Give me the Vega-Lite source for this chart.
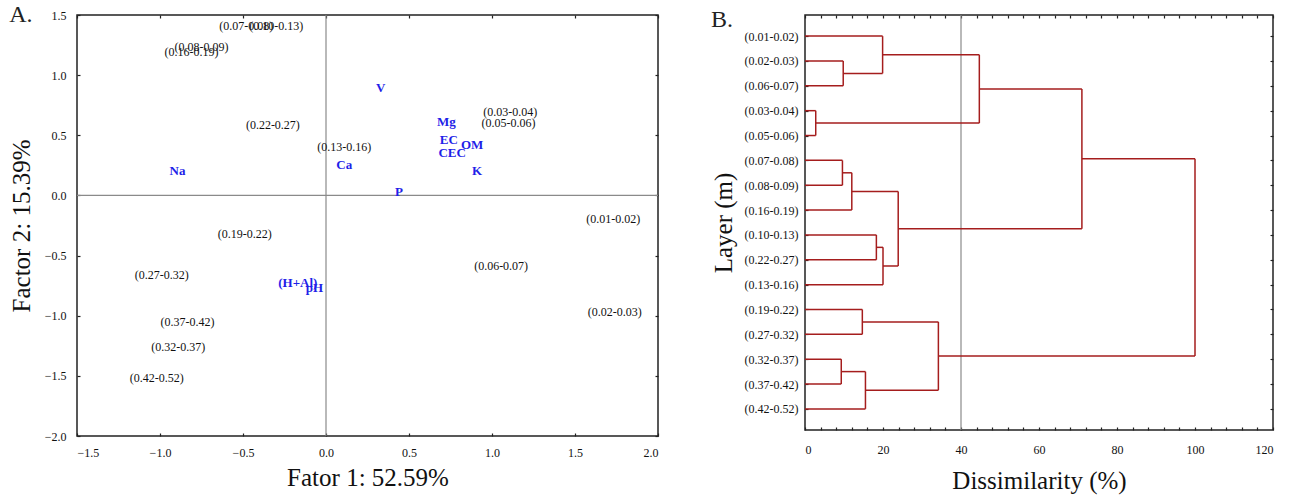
{
  "$schema": "https://vega.github.io/schema/vega-lite/v6.json",
  "padding": {"left": 8, "top": 2, "right": 5, "bottom": 5},
  "spacing": 50,
  "datasets": {
    "zero": [{"v": 0}],
    "cut": [{"v": 40}],
    "samples": [
      {"label": "(0.07-0.08)", "f1": -0.48, "f2": 1.41},
      {"label": "(0.10-0.13)", "f1": -0.30, "f2": 1.41},
      {"label": "(0.08-0.09)", "f1": -0.75, "f2": 1.23},
      {"label": "(0.16-0.19)", "f1": -0.81, "f2": 1.19},
      {"label": "(0.22-0.27)", "f1": -0.32, "f2": 0.585},
      {"label": "(0.13-0.16)", "f1": 0.11, "f2": 0.40},
      {"label": "(0.03-0.04)", "f1": 1.11, "f2": 0.69},
      {"label": "(0.05-0.06)", "f1": 1.10, "f2": 0.60},
      {"label": "(0.01-0.02)", "f1": 1.73, "f2": -0.20},
      {"label": "(0.19-0.22)", "f1": -0.49, "f2": -0.32},
      {"label": "(0.06-0.07)", "f1": 1.055, "f2": -0.583},
      {"label": "(0.27-0.32)", "f1": -0.99, "f2": -0.66},
      {"label": "(0.02-0.03)", "f1": 1.74, "f2": -0.967},
      {"label": "(0.37-0.42)", "f1": -0.835, "f2": -1.055},
      {"label": "(0.32-0.37)", "f1": -0.89, "f2": -1.264},
      {"label": "(0.42-0.52)", "f1": -1.02, "f2": -1.514}
    ],
    "variables": [
      {"label": "V", "f1": 0.33, "f2": 0.89},
      {"label": "Mg", "f1": 0.725, "f2": 0.61},
      {"label": "EC", "f1": 0.74, "f2": 0.46},
      {"label": "OM", "f1": 0.88, "f2": 0.42},
      {"label": "CEC", "f1": 0.76, "f2": 0.35},
      {"label": "K", "f1": 0.91, "f2": 0.20},
      {"label": "Na", "f1": -0.895, "f2": 0.20},
      {"label": "Ca", "f1": 0.11, "f2": 0.25},
      {"label": "P", "f1": 0.44, "f2": 0.03},
      {"label": "(H+Al)", "f1": -0.17, "f2": -0.73},
      {"label": "pH", "f1": -0.07, "f2": -0.77}
    ],
    "dendro": [
      {"x1": 0, "x2": 19.9, "y1": 1, "y2": 1},
      {"x1": 0, "x2": 9.8, "y1": 2, "y2": 2},
      {"x1": 0, "x2": 9.8, "y1": 3, "y2": 3},
      {"x1": 9.8, "x2": 19.9, "y1": 2.5, "y2": 2.5},
      {"x1": 0, "x2": 2.75, "y1": 4, "y2": 4},
      {"x1": 0, "x2": 2.75, "y1": 5, "y2": 5},
      {"x1": 19.9, "x2": 44.7, "y1": 1.75, "y2": 1.75},
      {"x1": 2.75, "x2": 44.7, "y1": 4.5, "y2": 4.5},
      {"x1": 44.7, "x2": 71, "y1": 3.125, "y2": 3.125},
      {"x1": 0, "x2": 9.6, "y1": 6, "y2": 6},
      {"x1": 0, "x2": 9.6, "y1": 7, "y2": 7},
      {"x1": 9.6, "x2": 12, "y1": 6.5, "y2": 6.5},
      {"x1": 0, "x2": 12, "y1": 8, "y2": 8},
      {"x1": 0, "x2": 18.3, "y1": 9, "y2": 9},
      {"x1": 0, "x2": 18.3, "y1": 10, "y2": 10},
      {"x1": 18.3, "x2": 20, "y1": 9.5, "y2": 9.5},
      {"x1": 0, "x2": 20, "y1": 11, "y2": 11},
      {"x1": 12, "x2": 23.9, "y1": 7.25, "y2": 7.25},
      {"x1": 20, "x2": 23.9, "y1": 10.25, "y2": 10.25},
      {"x1": 23.9, "x2": 71, "y1": 8.75, "y2": 8.75},
      {"x1": 71, "x2": 100, "y1": 5.9375, "y2": 5.9375},
      {"x1": 0, "x2": 14.7, "y1": 12, "y2": 12},
      {"x1": 0, "x2": 14.7, "y1": 13, "y2": 13},
      {"x1": 0, "x2": 9.3, "y1": 14, "y2": 14},
      {"x1": 0, "x2": 9.3, "y1": 15, "y2": 15},
      {"x1": 9.3, "x2": 15.5, "y1": 14.5, "y2": 14.5},
      {"x1": 0, "x2": 15.5, "y1": 16, "y2": 16},
      {"x1": 14.7, "x2": 34.2, "y1": 12.5, "y2": 12.5},
      {"x1": 15.5, "x2": 34.2, "y1": 15.25, "y2": 15.25},
      {"x1": 34.2, "x2": 100, "y1": 13.875, "y2": 13.875},
      {"x1": 9.8, "x2": 9.8, "y1": 2, "y2": 3},
      {"x1": 19.9, "x2": 19.9, "y1": 1, "y2": 2.5},
      {"x1": 2.75, "x2": 2.75, "y1": 4, "y2": 5},
      {"x1": 44.7, "x2": 44.7, "y1": 1.75, "y2": 4.5},
      {"x1": 9.6, "x2": 9.6, "y1": 6, "y2": 7},
      {"x1": 12, "x2": 12, "y1": 6.5, "y2": 8},
      {"x1": 18.3, "x2": 18.3, "y1": 9, "y2": 10},
      {"x1": 20, "x2": 20, "y1": 9.5, "y2": 11},
      {"x1": 23.9, "x2": 23.9, "y1": 7.25, "y2": 10.25},
      {"x1": 71, "x2": 71, "y1": 3.125, "y2": 8.75},
      {"x1": 14.7, "x2": 14.7, "y1": 12, "y2": 13},
      {"x1": 9.3, "x2": 9.3, "y1": 14, "y2": 15},
      {"x1": 15.5, "x2": 15.5, "y1": 14.5, "y2": 16},
      {"x1": 34.2, "x2": 34.2, "y1": 12.5, "y2": 15.25},
      {"x1": 100, "x2": 100, "y1": 5.9375, "y2": 13.875}
    ]
  },
  "hconcat": [
    {
      "width": 581,
      "height": 421,
      "title": {"text": "A.", "anchor": "start", "frame": "bounds", "offset": 0, "dy": 18, "dx": 0, "font": "Liberation Serif", "fontSize": 24, "fontWeight": "normal", "color": "#222"},
      "layer": [
        {
          "data": {"name": "zero"},
          "mark": {"type": "rule", "color": "#8a8a8a", "strokeWidth": 1.2},
          "encoding": {
            "x": {"field": "v", "type": "quantitative", "scale": {"domain": [-1.5, 2.0], "nice": false, "zero": false}, "axis": null}
          }
        },
        {
          "data": {"name": "zero"},
          "mark": {"type": "rule", "color": "#8a8a8a", "strokeWidth": 1.2},
          "encoding": {
            "y": {"field": "v", "type": "quantitative", "scale": {"domain": [-2.0, 1.5], "nice": false, "zero": false}, "axis": null}
          }
        },
        {
          "data": {"name": "samples"},
          "mark": {"type": "text", "font": "Liberation Serif", "fontSize": 12, "color": "#111", "align": "center", "baseline": "middle"},
          "encoding": {
            "x": {"field": "f1", "type": "quantitative", "scale": {"domain": [-1.5, 2.0], "nice": false, "zero": false},
                  "axis": {"orient": "bottom", "values": [-1.5, -1.0, -0.5, 0.0, 0.5, 1.0, 1.5, 2.0], "format": ".1f", "title": "Fator 1: 52.59%", "tickSize": -3, "labelPadding": 14, "titlePadding": 7}},
            "y": {"field": "f2", "type": "quantitative", "scale": {"domain": [-2.0, 1.5], "nice": false, "zero": false},
                  "axis": {"orient": "left", "values": [-2.0, -1.5, -1.0, -0.5, 0.0, 0.5, 1.0, 1.5], "format": ".1f", "title": "Factor 2: 15.39%", "tickSize": -3, "labelPadding": 14, "titlePadding": 10}},
            "text": {"field": "label", "type": "nominal"}
          }
        },
        {
          "data": {"name": "variables"},
          "mark": {"type": "text", "font": "Liberation Serif", "fontSize": 13, "fontWeight": "bold", "color": "#1f1fe8", "align": "center", "baseline": "middle"},
          "encoding": {
            "x": {"field": "f1", "type": "quantitative", "scale": {"domain": [-1.5, 2.0], "nice": false, "zero": false},
                  "axis": {"orient": "top", "values": [-1.5, -1.0, -0.5, 0.0, 0.5, 1.0, 1.5, 2.0], "labels": false, "title": null, "tickSize": -3}},
            "y": {"field": "f2", "type": "quantitative", "scale": {"domain": [-2.0, 1.5], "nice": false, "zero": false},
                  "axis": {"orient": "right", "values": [-2.0, -1.5, -1.0, -0.5, 0.0, 0.5, 1.0, 1.5], "labels": false, "title": null, "tickSize": -3}},
            "text": {"field": "label", "type": "nominal"}
          }
        }
      ],
      "resolve": {"axis": {"x": "independent", "y": "independent"}}
    },
    {
      "width": 468,
      "height": 415,
      "title": {"text": "B.", "anchor": "start", "frame": "bounds", "offset": 0, "dy": 18, "dx": 0, "font": "Liberation Serif", "fontSize": 24, "fontWeight": "normal", "color": "#222"},
      "layer": [
        {
          "data": {"name": "cut"},
          "mark": {"type": "rule", "color": "#8a8a8a", "strokeWidth": 1.2},
          "encoding": {
            "x": {"field": "v", "type": "quantitative", "scale": {"domain": [0, 120], "nice": false},
                  "axis": {"orient": "top", "values": [0,4,8,12,16,20,24,28,32,36,40,44,48,52,56,60,64,68,72,76,80,84,88,92,96,100,104,108,112,116,120], "labels": false, "title": null, "tickSize": -3}},
            "y": {"datum": 0.15, "type": "quantitative", "scale": {"domain": [0.15, 16.85], "nice": false, "zero": false, "reverse": true},
                  "axis": {"orient": "right", "values": [1,2,3,4,5,6,7,8,9,10,11,12,13,14,15,16], "labels": false, "title": null, "tickSize": -3}},
            "y2": {"datum": 16.85}
          }
        },
        {
          "data": {"name": "dendro"},
          "mark": {"type": "rule", "color": "#a51d1d", "strokeWidth": 1.5},
          "encoding": {
            "x": {"field": "x1", "type": "quantitative", "scale": {"domain": [0, 120], "nice": false},
                  "axis": {"orient": "bottom", "values": [0,4,8,12,16,20,24,28,32,36,40,44,48,52,56,60,64,68,72,76,80,84,88,92,96,100,104,108,112,116,120], "labelExpr": "datum.value % 20 === 0 ? datum.label : ''", "title": "Dissimilarity (%)", "tickSize": -3, "labelPadding": 17, "titlePadding": 13}},
            "x2": {"field": "x2"},
            "y": {"field": "y1", "type": "quantitative", "scale": {"domain": [0.15, 16.85], "nice": false, "zero": false, "reverse": true},
                  "axis": {"orient": "left", "values": [1,2,3,4,5,6,7,8,9,10,11,12,13,14,15,16], "labelExpr": "['(0.01-0.02)','(0.02-0.03)','(0.06-0.07)','(0.03-0.04)','(0.05-0.06)','(0.07-0.08)','(0.08-0.09)','(0.16-0.19)','(0.10-0.13)','(0.22-0.27)','(0.13-0.16)','(0.19-0.22)','(0.27-0.32)','(0.32-0.37)','(0.37-0.42)','(0.42-0.52)'][datum.value - 1]", "title": "Layer (m)", "tickSize": -3, "labelPadding": 10, "titlePadding": 8, "labelFontSize": 12}},
            "y2": {"field": "y2"}
          }
        }
      ],
      "resolve": {"axis": {"x": "independent", "y": "independent"}}
    }
  ],
  "config": {
    "view": {"stroke": "#222", "strokeWidth": 1.5},
    "axis": {
      "domain": false,
      "grid": false,
      "ticks": true,
      "tickColor": "#222",
      "tickWidth": 1.2,
      "labelFont": "Liberation Serif",
      "labelFontSize": 12,
      "labelColor": "#111",
      "titleFont": "Liberation Serif",
      "titleFontSize": 25,
      "titleFontWeight": "normal",
      "titleColor": "#111"
    }
  }
}
